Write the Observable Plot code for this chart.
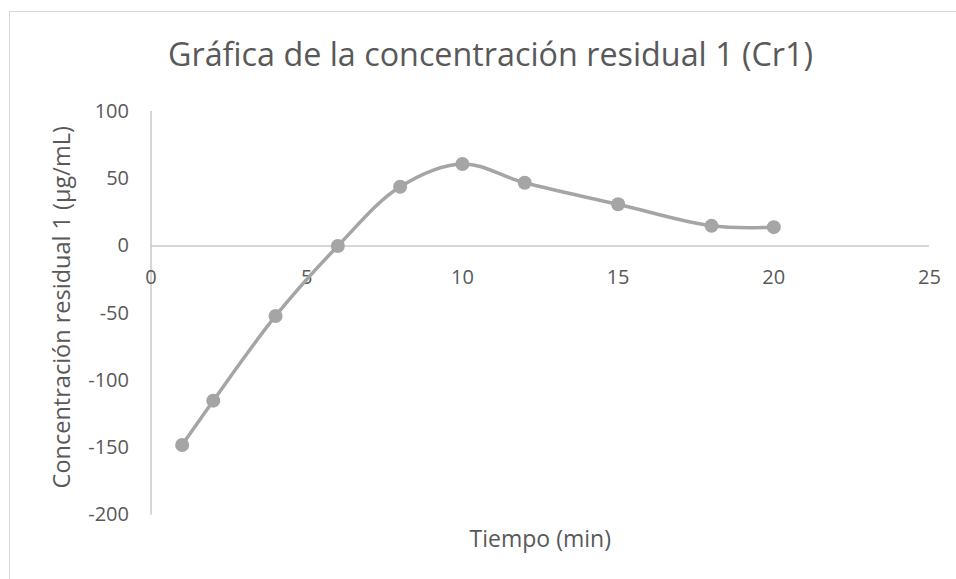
<!DOCTYPE html>
<html>
<head>
<meta charset="utf-8">
<script src="https://cdn.jsdelivr.net/npm/d3@7"></script>
<script src="https://cdn.jsdelivr.net/npm/@observablehq/plot@0.6"></script>
<style>
  html, body { margin: 0; padding: 0; background: #ffffff; overflow: hidden; }
  #wrap { position: relative; width: 956px; height: 579px; }
  #border { position: absolute; left: 9px; top: 11px; width: 1000px; height: 1000px;
            border-left: 1.5px solid #d9d9d9; border-top: 1.5px solid #d9d9d9; }
  #chart { position: absolute; left: 0; top: 0; }
</style>
</head>
<body>
<div id="wrap"><div id="border"></div><div id="chart"></div></div>
<script>
const title = "Gráfica de la concentración residual 1 (Cr1)";
const xTitle = "Tiempo (min)";
const yTitle = "Concentración residual 1 (µg/mL)";
const tiempo = [1, 2, 4, 6, 8, 10, 12, 15, 18, 20];
const cr1 = [-148, -115, -52, 0, 44, 61, 47, 31, 15, 14];
const xTicks = [0, 5, 10, 15, 20, 25];
const yTicks = [-200, -150, -100, -50, 0, 50, 100];

const data = tiempo.map((t, i) => ({t, c: cr1[i]}));
const textColor = "#595959";
const axisColor = "#c8c8c8";
const seriesColor = "#a5a5a5";
const font = "'Open Sans', 'DejaVu Sans', sans-serif";

const chart = Plot.plot({
  width: 956,
  height: 579,
  marginLeft: 150.5,
  marginRight: 27,
  marginTop: 111,
  marginBottom: 64.5,
  style: {fontFamily: font, background: "transparent", overflow: "visible"},
  x: {domain: [0, 25], axis: null},
  y: {domain: [-200, 100], axis: null},
  marks: [
    // y axis line and tick labels
    Plot.ruleX([0], {stroke: axisColor, strokeWidth: 1.5}),
    Plot.axisY(yTicks, {tickSize: 0, tickPadding: 22, fontSize: 20, fill: textColor, label: null, tickFormat: d => String(d)}),
    // horizontal zero line (x axis)
    Plot.ruleY([0], {stroke: axisColor, strokeWidth: 1.5}),
    // x tick labels placed next to the zero line
    Plot.text(xTicks, {x: d => d, y: () => 0, text: d => String(d), dy: 32, fontSize: 20, fill: textColor}),
    // series
    Plot.line(data, {x: "t", y: "c", curve: "catmull-rom", stroke: seriesColor, strokeWidth: 3.5}),
    Plot.dot(data, {x: "t", y: "c", r: 7, fill: seriesColor, stroke: "none"}),
    // titles
    Plot.text([title], {frameAnchor: "top-left", dx: 339.5, dy: -56, textAnchor: "middle", lineAnchor: "middle", fontSize: 32.3, fill: textColor}),
    Plot.text([xTitle], {frameAnchor: "bottom", dy: 24.5, textAnchor: "middle", lineAnchor: "middle", fontSize: 23, fill: textColor}),
    Plot.text([yTitle], {frameAnchor: "left", dx: -89, dy: -6, rotate: -90, textAnchor: "middle", lineAnchor: "middle", fontSize: 23.5, fill: textColor})
  ]
});
document.getElementById("chart").appendChild(chart);
</script>
</body>
</html>
